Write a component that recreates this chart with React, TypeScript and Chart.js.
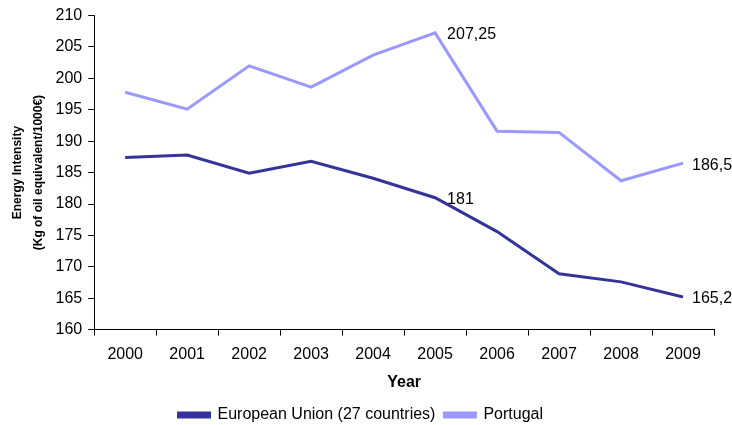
import React, { useEffect, useRef } from "react";
import { Chart, registerables } from "chart.js";

Chart.register(...registerables);

const years = ["2000", "2001", "2002", "2003", "2004", "2005", "2006", "2007", "2008", "2009"];
const euValues = [187.4, 187.8, 184.9, 186.8, 184.1, 181, 175.6, 168.9, 167.6, 165.2];
const portugalValues = [197.8, 195.1, 202.0, 198.6, 203.7, 207.25, 191.6, 191.4, 183.7, 186.5];
const euLabels: (string | null)[] = [null, null, null, null, null, "181", null, null, null, "165,2"];
const portugalLabels: (string | null)[] = [null, null, null, null, null, "207,25", null, null, null, "186,5"];

const FONT = "'Liberation Sans', Arial, sans-serif";

const dataLabelPlugin = {
  id: "dataLabels",
  afterDatasetsDraw(chart: any) {
    const ctx = chart.ctx;
    const labelSets = [euLabels, portugalLabels];
    ctx.save();
    ctx.font = `16px ${FONT}`;
    ctx.fillStyle = "#000";
    ctx.textAlign = "left";
    ctx.textBaseline = "middle";
    chart.data.datasets.forEach((_ds: any, i: number) => {
      const meta = chart.getDatasetMeta(i);
      const n = meta.data.length;
      meta.data.forEach((pt: any, j: number) => {
        const t = labelSets[i][j];
        if (t) ctx.fillText(t, pt.x + (j === n - 1 ? 9 : 12), pt.y + 2);
      });
    });
    ctx.restore();
  },
};

export default function App() {
  const ref = useRef<HTMLCanvasElement | null>(null);
  useEffect(() => {
    document.body.style.margin = "0";
    const chart = new Chart(ref.current!, {
      type: "line",
      data: {
        labels: years,
        datasets: [
          {
            label: "European Union (27 countries)",
            data: euValues,
            borderColor: "#333399",
            backgroundColor: "#333399",
            borderWidth: 3,
            pointRadius: 0,
            tension: 0,
          },
          {
            label: "Portugal",
            data: portugalValues,
            borderColor: "#9999FF",
            backgroundColor: "#9999FF",
            borderWidth: 3,
            pointRadius: 0,
            tension: 0,
          },
        ],
      },
      options: {
        animation: false,
        responsive: false,
        layout: { padding: { top: 8.5, right: 18, left: 7.5, bottom: -8 } },
        plugins: {
          legend: {
            position: "bottom",
            labels: {
              boxWidth: 31,
              boxHeight: 4,
              color: "#000",
              font: { family: FONT, size: 16 },
              padding: 9,
            },
          },
          tooltip: { enabled: false },
        },
        scales: {
          x: {
            offset: true,
            grid: { offset: true, drawOnChartArea: false, drawTicks: true, tickLength: 6, color: "#000" },
            border: { color: "#000", width: 1 },
            ticks: { color: "#000", font: { family: FONT, size: 16 }, padding: 9, maxRotation: 0 },
            title: { display: true, text: "Year", color: "#000", font: { family: FONT, size: 16, weight: "bold" }, padding: { top: 0, bottom: 6 } },
          },
          y: {
            min: 160,
            max: 210,
            ticks: { stepSize: 5, color: "#000", font: { family: FONT, size: 16 }, padding: 6 },
            grid: { drawOnChartArea: false, drawTicks: true, tickLength: 6, color: "#000" },
            border: { color: "#000", width: 1 },
            title: {
              display: true,
              text: ["Energy Intensity", "(Kg of oil equivalent/1000€)"],
              color: "#000",
              font: { family: FONT, size: 12, weight: "bold", lineHeight: 1.75 },
              padding: { top: 0, bottom: 0 },
            },
          },
        },
      },
      plugins: [dataLabelPlugin],
    });
    return () => chart.destroy();
  }, []);
  return (
    <div style={{ width: 732, height: 425, background: "#fff" }}>
      <canvas ref={ref} width={732} height={425} />
    </div>
  );
}
